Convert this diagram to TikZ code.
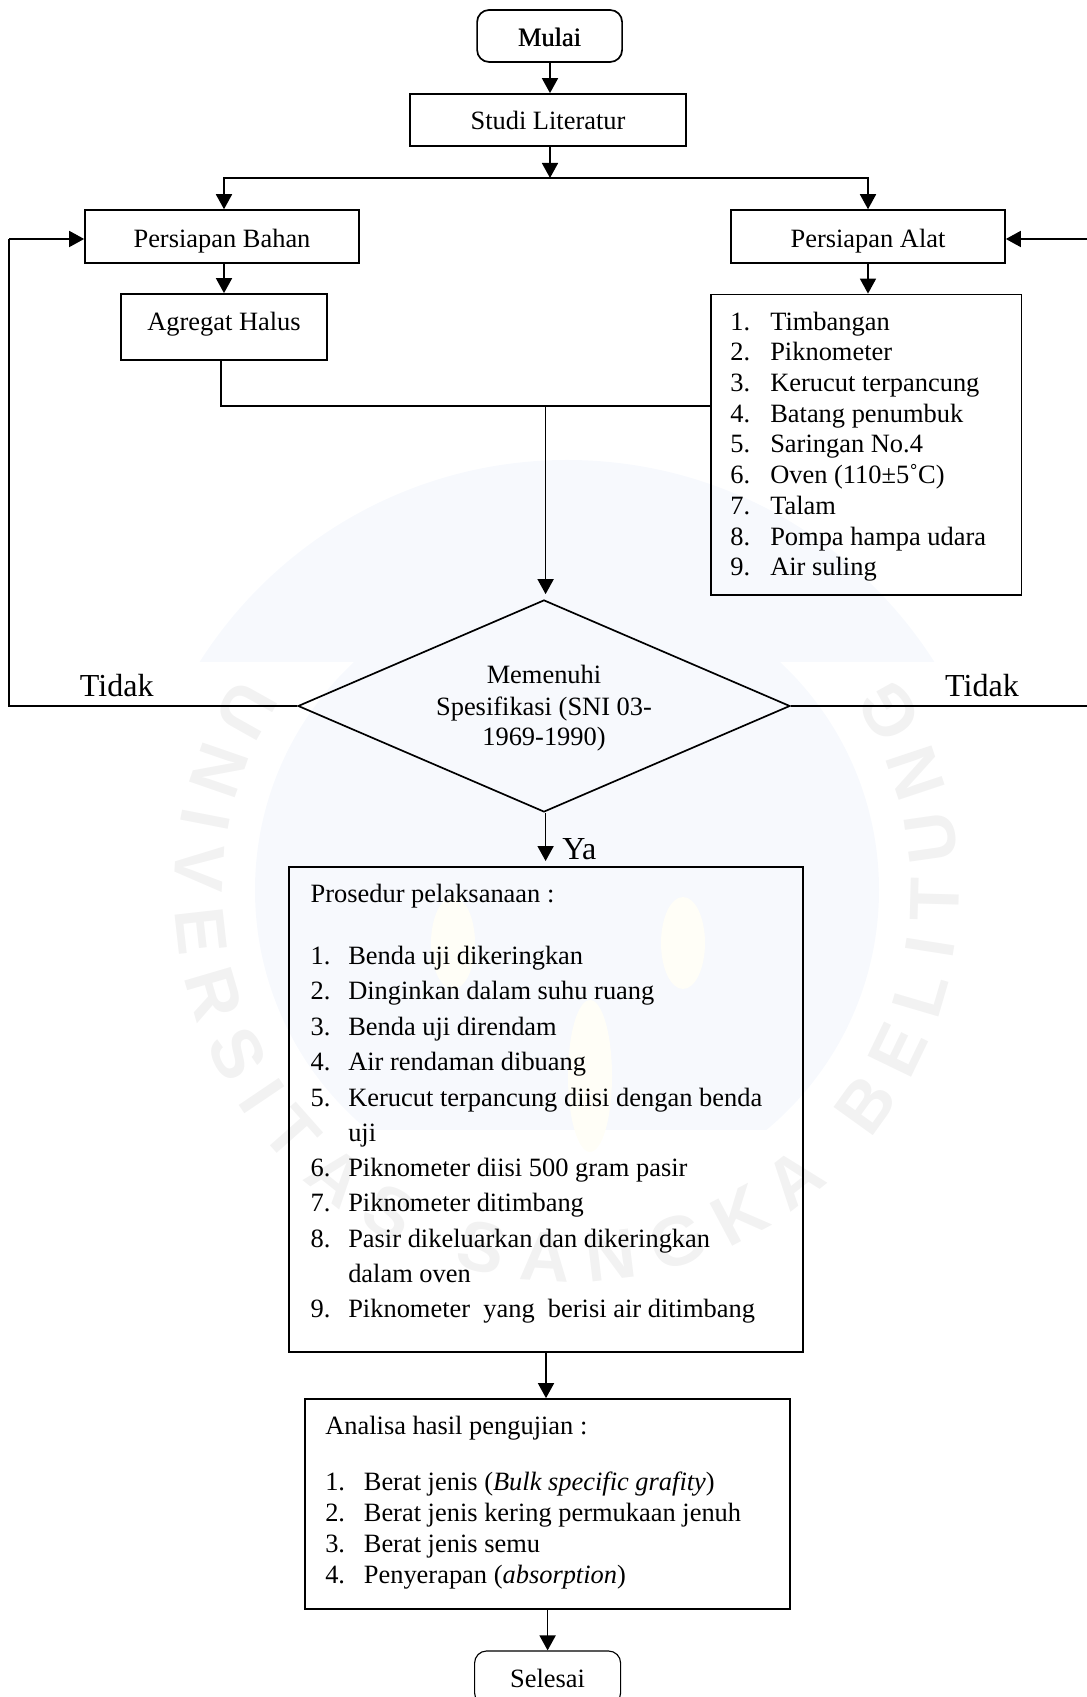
\documentclass[tikz,border=0pt]{standalone}
\usepackage{fontspec}
\setmainfont{Liberation Serif}
\newfontfamily\wmfont{Liberation Sans Bold}
\usetikzlibrary{arrows.meta, shapes.geometric, decorations.text}
\definecolor{wmblue}{HTML}{F7F9FD}
\definecolor{wmgrey}{HTML}{F2F2F2}
\definecolor{wmyellow}{HTML}{FFFEF7}
\tikzset{
	kotak/.style={draw, line width=1.2pt, inner sep=0pt, font=\fontsize{18.8}{22}\selectfont},
	teks/.style={inner sep=0pt, anchor=base west, font=\fontsize{18.8}{22}\selectfont},
	besar/.style={inner sep=0pt, anchor=base, font=\fontsize{22.8}{26}\selectfont},
	garis/.style={line width=1.2pt}
}

\begin{document}
\begin{tikzpicture}[>={Triangle[length=3.75mm, width=4mm]}]
	\clip (0, 0) rectangle (27.175, 42.425);

	\begin{scope}
		\clip (0, 25.875) rectangle (27.175, 42.425);
		\fill[wmblue] (14.175, 20.05) circle [radius=10.875];
	\end{scope}
	\begin{scope}
		\clip (0, 14.175) rectangle (27.175, 25.875);
		\fill[wmblue] (14.175, 20.175) circle [radius=7.8];
	\end{scope}
	\fill[wmyellow] (11.325, 18.85) ellipse [x radius=.55, y radius=1.15];
	\fill[wmyellow] (17.075, 18.85) ellipse [x radius=.55, y radius=1.15];
	\fill[wmyellow] (14.75, 15.525) ellipse [x radius=.55, y radius=1.9];
	\path[decorate, decoration={text along path, text align={fit to path},
		text={|\wmfont\fontsize{50}{50}\selectfont\color{wmgrey}|UNIVERSITAS SANGKA BELITUNG}}]
		([shift={(147:9.8)}] 14.175, 20.175) arc [start angle=147, end angle=393, radius=9.8];

	\node[kotak, rounded corners=.3cm, minimum width=3.625cm, minimum height=1.3cm, text height=.55cm] (mulai) at (13.74, 41.525) {\rlap{Mulai}\kern.4pt Mulai};
	\node[kotak, minimum width=6.9cm, minimum height=1.3cm] (studi) at (13.7, 39.425) {Studi Literatur};
	\node[kotak, minimum width=6.85cm, minimum height=1.325cm, text height=.67cm] (bahan) at (5.55, 36.51) {Persiapan Bahan};
	\node[kotak, minimum width=6.85cm, minimum height=1.325cm, text height=.67cm] (alat) at (21.7, 36.51) {Persiapan Alat};
	\node[kotak, minimum width=5.15cm, minimum height=1.65cm, text depth=.29cm] (agregat) at (5.6, 34.25) {Agregat Halus};
	\node[draw, line width=.8pt, inner sep=0pt, minimum width=7.77cm, minimum height=7.52cm] (daftar) at (21.66, 31.31) {};
	\node[kotak, diamond, aspect=2.32, minimum width=12.3cm, minimum height=5.3cm] (syarat) at (13.6, 24.775) {};
	\node[kotak, minimum width=12.85cm, minimum height=12.125cm] (prosedur) at (13.65, 14.69) {};
	\node[kotak, minimum width=12.125cm, minimum height=5.25cm] (analisa) at (13.68, 4.825) {};
	\node[kotak, line width=.8pt, rounded corners=.3cm, minimum width=3.65cm, minimum height=1.35cm] (selesai) at (13.69, .475) {Selesai};

	\foreach \txt [count=\i] in {Timbangan, Piknometer, Kerucut terpancung, Batang penumbuk, Saringan No.4, Oven (110±5˚C), Talam, Pompa hampa udara, Air suling} {
		\node[teks] (alatno\i) at (18.25, {34.17-.7675*(\i-1)}) {\i.};
		\node[teks] (alatisi\i) at (19.25, {34.17-.7675*(\i-1)}) {\txt};
	}

	\node[teks, anchor=base] (syarat1) at (13.6, 25.325) {Memenuhi};
	\node[teks, anchor=base] (syarat2) at (13.6, 24.54) {Spesifikasi (SNI 03-};
	\node[teks, anchor=base] (syarat3) at (13.6, 23.775) {1969-1990)};

	\node[besar] (tidak1) at (2.92, 25) {Tidak};
	\node[besar] (tidak2) at (24.55, 25) {Tidak};
	\node[besar, anchor=base west] (ya) at (14.05, 20.925) {Ya};

	\node[teks] (judul1) at (7.76, 19.85) {Prosedur pelaksanaan :};
	\foreach \y/\no/\txt [count=\i] in {18.3/1./Benda uji dikeringkan, 17.425/2./Dinginkan dalam suhu ruang, 16.525/3./Benda uji direndam, 15.65/4./Air rendaman dibuang, 14.755/5./Kerucut terpancung diisi dengan benda, 13.875//uji, 13/6./Piknometer diisi 500 gram pasir, 12.125/7./Piknometer ditimbang, 11.225/8./Pasir dikeluarkan dan dikeringkan, 10.35//dalam oven, 9.475/9./Piknometer\ \ yang\ \ berisi air ditimbang} {
		\node[teks] (prosno\i) at (7.76, \y) {\no};
		\node[teks] (prosisi\i) at (8.7, \y) {\txt};
	}

	\node[teks] (judul2) at (8.125, 6.55) {Analisa hasil pengujian :};
	\foreach \y/\txt [count=\i] in {5.15/{Berat jenis (\textit{Bulk specific grafity})}, 4.375/Berat jenis kering permukaan jenuh, 3.6/Berat jenis semu, 2.825/{Penyerapan (\textit{absorption})}} {
		\node[teks] (hasilno\i) at (8.125, \y) {\i.};
		\node[teks] (hasilisi\i) at (9.09, \y) {\txt};
	}

	\coordinate (cabang) at (13.75, 37.975);
	\coordinate (gabung) at (13.64, 32.275);
	\coordinate (turun) at (5.525, 32.275);
	\coordinate (kiri) at (.225, 24.775);
	\coordinate (kiri2) at (.225, 36.45);
	\coordinate (kanan) at (27.175, 24.775);
	\coordinate (kanan2) at (27.175, 36.45);

	\draw[garis, ->] (mulai.south -| cabang) -- (studi.north -| cabang);
	\draw[garis, ->] (studi.south -| cabang) -- (cabang);
	\draw[garis, ->] (cabang) -| (agregat |- bahan.north);
	\draw[garis, ->] (cabang) -| (alat.north);
	\draw[garis, ->] (bahan.south -| agregat) -- (agregat.north);
	\draw[garis, ->] (alat.south) -- (alat.south |- daftar.north);
	\draw[garis] (turun |- agregat.south) -- (turun) -- (gabung -| daftar.west);
	\draw[garis, ->, shorten >=.125cm] (gabung) -- (gabung |- syarat.north);
	\draw[garis, ->, shorten >=.125cm] (syarat.south -| gabung) -- (prosedur.north -| gabung);
	\draw[garis, ->] (prosedur.south) -- (prosedur.south |- analisa.north);
	\draw[garis, ->] (analisa.south -| selesai) -- (selesai.north);
	\draw[garis] (syarat.west) -- (kiri) -- (kiri2);
	\draw[garis, ->] (kiri2) -- (kiri2 -| bahan.west);
	\draw[garis] (syarat.east) -- (kanan);
	\draw[garis, ->] (kanan2) -- (kanan2 -| alat.east);
\end{tikzpicture}
\end{document}
